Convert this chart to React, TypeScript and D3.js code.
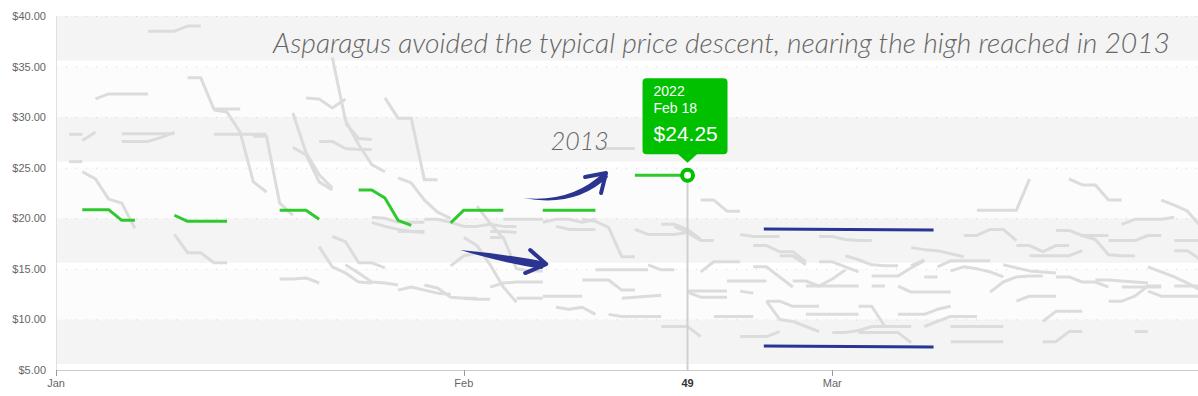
import React, { useRef, useLayoutEffect } from "react";
import * as d3 from "d3";

// x = day index counted from Jan 1 (0), y = price in $
// every entry is one week: [first day, weekday prices...]
const grayWeeks: [number, number[]][] = [
  [7, [38.5, 38.5, 38.5, 39.0, 39.0]],
  [3, [31.8, 32.3, 32.3, 32.3, 32.3]],
  [1, [28.3, 28.3]],
  [2, [27.7, 28.5]],
  [5, [28.35, 28.35, 28.35, 28.35, 28.35]],
  [5, [27.6, 27.6, 27.6, 28.0, 28.5]],
  [1, [25.6, 25.6]],
  [2, [24.6, 23.9, 21.9, 21.5, 19.0]],
  [10, [33.9, 33.9, 30.8, 30.8, 30.8]],
  [12, [30.7, 30.5, 28.5, 23.6, 22.6]],
  [12, [28.3, 28.3, 28.3, 28.3, 28.3]],
  [15, [28.1, 28.1, 21.5, 20.3]],
  [9, [18.4, 16.6, 16.6, 15.6, 15.6]],
  [17, [14.0, 14.0, 14.1, 13.6]],
  [20, [17.2, 15.2, 14.6, 13.7, 13.6]],
  [21, [18.2, 17.7, 15.6, 15.6, 15.1]],
  [22, [15.4, 14.6, 13.7, 13.6, 13.4]],
  [18, [30.4, 26.5, 24.3, 23.0]],
  [18, [27.0, 26.3, 23.6, 22.8]],
  [19, [31.9, 31.8, 30.9, 31.8]],
  [20, [27.6, 27.6, 26.9, 26.8, 26.8]],
  [21, [35.9, 29.7, 27.3, 25.3, 24.6]],
  [26, [24.0, 23.5, 21.8, 20.6, 20.0]],
  [22, [29.4, 27.9, 27.8]],
  [25, [31.9, 29.9, 29.9, 23.8, 23.8]],
  [24, [20.1, 20.0, 19.6, 19.6, 19.6]],
  [24, [19.6, 19.2, 18.9, 18.7, 18.6]],
  [26, [12.9, 13.2, 12.9, 12.6, 12.5]],
  [31, [12.1, 12.0, 12.0]],
  [28, [13.4, 13.1, 12.2, 12.1, 12.1]],
  [30, [15.3, 16.3, 16.6, 16.2]],
  [31, [18.1, 17.3, 15.4, 13.2, 11.7]],
  [33, [18.1, 18.1, 15.0, 14.8, 14.8]],
  [33, [13.2, 13.6, 13.7, 13.7, 13.7]],
  [35, [12.1, 12.1, 12.1]],
  [37, [12.3, 12.3, 12.3, 12.3]],
  [38, [11.2, 11.0, 11.2, 10.5]],
  [42, [10.5, 10.3, 10.3, 10.3, 10.3]],
  [40, [13.9, 13.9, 13.9, 12.9, 12.9]],
  [43, [12.1, 12.2, 12.3, 12.4]],
  [41, [14.9, 14.9, 14.9, 14.9, 14.9]],
  [40, [19.9, 19.7, 19.1, 16.2, 16.2]],
  [45, [15.4, 14.9, 14.9]],
  [44, [18.9, 18.4, 18.4, 18.4, 18.6]],
  [46, [19.4, 19.4, 18.9, 17.9]],
  [46, [9.3, 9.3, 9.3, 8.3]],
  [26, [18.7, 18.7, 18.7]],
  [32, [21.2, 19.5, 18.0]],
  [33, [18.7, 18.7, 18.6]],
  [31, [19.2, 19.2, 19.4, 19.2, 19.2]],
  [34, [19.9, 19.9, 19.9, 19.9]],
  [37, [19.6, 19.9, 19.9, 19.6, 19.9]],
  [38, [19.2, 18.9, 18.9, 18.9]],
  [28, [19.9, 19.9, 19.6, 19.2, 19.2]],
  [41, [26.9, 26.9, 26.9, 26.9]],
  [49, [21.8, 21.8, 20.7, 20.7]],
  [47, [19.2, 18.6, 17.8, 17.8]],
  [52, [18.4, 18.2, 18.2, 18.2]],
  [53, [17.3, 17.3, 16.7, 16.7, 15.7]],
  [55, [16.3, 16.3, 15.4]],
  [58, [18.2, 18.2, 17.9, 17.8, 17.8]],
  [60, [16.3, 15.9, 15.4, 15.3, 15.3]],
  [65, [15.3, 15.9]],
  [62, [14.3, 14.3, 14.3, 15.1, 15.8]],
  [65, [17.1, 16.9, 16.8, 16.5, 16.2]],
  [49, [14.7, 15.7, 15.7, 15.7]],
  [53, [15.2, 15.2, 14.2, 13.2]],
  [51, [13.8, 13.8, 13.8, 13.8]],
  [56, [13.8, 13.8, 13.3, 14.0, 14.9]],
  [57, [13.3, 13.3, 13.3, 13.3, 13.3]],
  [62, [13.3, 13.3]],
  [58, [15.7, 15.7, 15.2, 14.7]],
  [64, [13.3, 12.7, 12.7, 12.7, 12.7]],
  [66, [14.2, 14.2]],
  [48, [12.7, 12.2, 12.2, 12.2]],
  [48, [12.8, 12.8, 12.8, 12.8]],
  [52, [12.8, 12.6]],
  [54, [11.8, 11.8, 11.3, 11.3, 11.3]],
  [54, [11.8, 10.0, 9.8, 9.3, 8.8]],
  [50, [10.3, 10.3, 10.3, 10.3]],
  [57, [10.5, 10.5, 10.5, 10.5, 10.5]],
  [61, [11.3, 11.3, 9.3, 9.3, 9.3]],
  [59, [8.7, 8.7, 8.9, 9.3, 9.3]],
  [61, [8.7, 8.7, 8.7, 8.7, 7.7]],
  [52, [8.3, 8.3, 8.3, 8.8]],
  [64, [10.5, 10.5, 10.5, 11.0, 11.3]],
  [66, [9.3, 9.8, 10.3, 10.3, 10.3]],
  [70, [20.8, 20.8, 20.8, 20.8, 23.9]],
  [77, [23.9, 23.3, 23.3, 21.8, 21.8]],
  [84, [21.8, 21.3, 20.7, 19.2]],
  [81, [19.4, 19.9, 19.9, 19.9, 20.1]],
  [69, [18.3, 18.3, 18.9, 18.9, 17.8]],
  [73, [17.3, 17.3, 16.7, 17.3, 17.3]],
  [76, [18.8, 18.8, 18.3, 18.3, 18.3]],
  [78, [18.3, 17.9, 16.4, 16.3, 16.3]],
  [80, [17.8, 17.8, 17.8, 18.3, 18.3]],
  [74, [16.3, 16.3, 16.3, 16.3, 16.8]],
  [85, [17.8, 17.8, 17.8]],
  [85, [16.8, 16.8, 15.9]],
  [67, [15.2, 15.8, 15.8, 15.8, 15.8]],
  [68, [14.8, 15.2, 15.0, 14.7, 14.2]],
  [72, [15.4, 15.1, 14.8, 14.7, 14.6]],
  [71, [12.7, 13.7, 14.2, 14.3, 14.3]],
  [76, [14.2, 14.2, 13.7, 13.7, 13.2]],
  [81, [13.2, 13.2, 13.2, 13.2]],
  [79, [13.9, 13.9, 13.8, 13.7, 13.6]],
  [83, [15.2, 14.7, 14.2, 13.6, 12.9]],
  [80, [11.8, 11.8, 12.3, 13.3, 13.3]],
  [85, [13.3, 13.3, 13.3]],
  [83, [12.8, 12.3, 12.3, 12.3, 12.3]],
  [73, [11.8, 12.3, 12.3, 12.3]],
  [75, [9.8, 10.8, 10.8, 10.8]],
  [68, [9.3, 9.3, 9.3, 9.3, 9.3]],
  [68, [7.8, 7.8, 7.8, 7.8, 7.8]],
  [75, [7.8, 7.8, 8.8, 8.8]],
  [82, [8.8, 8.8]],
];

// 2022
const greenWeeks: [number, number[]][] = [
  [2, [20.85, 20.85, 20.85, 19.8, 19.8]],
  [9, [20.3, 19.7, 19.7, 19.7, 19.7]],
  [17, [20.8, 20.8, 20.8, 19.9]],
  [23, [22.8, 22.8, 22.0, 19.8, 19.3]],
  [30, [19.55, 20.8, 20.8, 20.8, 20.8]],
  [37, [20.8, 20.8, 20.8, 20.8, 20.8]],
  [44, [24.25, 24.25, 24.25, 24.25, 24.25]],
];

const blueHigh: [number, number][] = [
  [53.8, 18.95],
  [66.7, 18.85],
];
const blueLow: [number, number][] = [
  [53.8, 7.37],
  [66.7, 7.27],
];

const priceTicks = [5, 10, 15, 20, 25, 30, 35, 40];
const monthDays = [0, 31, 59];
const monthLabels = ["Jan", "Feb", "Mar"];
const darkBands: [number, number][] = [
  [5.6, 10],
  [15.6, 20],
  [25.6, 30],
  [35.6, 40],
];
const lightBands: [number, number][] = [
  [10, 15],
  [20, 25],
  [30, 35],
];

const hoverDay = 48;
const hoverPrice = 24.25;
const hoverYear = "2022";
const hoverDate = "Feb 18";
const hoverDayLabel = "49";

const W = 1198;
const H = 396;
const FONT = "'Liberation Sans', Arial, sans-serif";
const HAND = "Lato, 'Open Sans', sans-serif";

const App: React.FC = () => {
  const svgRef = useRef<SVGSVGElement>(null);

  useLayoutEffect(() => {
    if (!svgRef.current) return;
    const svg = d3.select(svgRef.current);
    svg.selectAll("*").remove();

    const x = d3.scaleLinear().domain([0, 86.8]).range([56, W]);
    const y = d3.scaleLinear().domain([5, 40]).range([370, 16]);
    const [x0, x1] = x.range();

    svg
      .append("defs")
      .append("clipPath")
      .attr("id", "plot")
      .append("rect")
      .attr("x", x0)
      .attr("y", y(40))
      .attr("width", x1 - x0)
      .attr("height", y(5) - y(40));

    // bands
    svg
      .selectAll(".lband")
      .data(lightBands)
      .join("rect")
      .attr("x", x0)
      .attr("width", x1 - x0)
      .attr("y", (d) => y(d[1]))
      .attr("height", (d) => y(d[0]) - y(d[1]))
      .attr("fill", "#fcfcfc");
    svg
      .selectAll(".dband")
      .data(darkBands)
      .join("rect")
      .attr("x", x0)
      .attr("width", x1 - x0)
      .attr("y", (d) => y(d[1]))
      .attr("height", (d) => y(d[0]) - y(d[1]))
      .attr("fill", "#f4f4f4");

    // dotted grid
    svg
      .selectAll(".grid")
      .data(priceTicks)
      .join("line")
      .attr("x1", x0)
      .attr("x2", x1)
      .attr("y1", (d) => y(d) + 0.5)
      .attr("y2", (d) => y(d) + 0.5)
      .attr("stroke", "#d4d4d4")
      .attr("stroke-dasharray", "1,9");

    // y labels
    svg
      .selectAll(".ylab")
      .data(priceTicks)
      .join("text")
      .attr("x", x0 - 10)
      .attr("y", (d) => y(d) + 4)
      .attr("text-anchor", "end")
      .attr("font-family", FONT)
      .attr("font-size", 11)
      .attr("fill", "#666")
      .text((d) => d3.format("$.2f")(d));

    // axes lines
    svg
      .append("line")
      .attr("x1", x0 + 0.5)
      .attr("x2", x0 + 0.5)
      .attr("y1", y(40))
      .attr("y2", y(5))
      .attr("stroke", "#e0e0e0");
    svg
      .append("line")
      .attr("x1", x0)
      .attr("x2", x1)
      .attr("y1", y(5) + 0.5)
      .attr("y2", y(5) + 0.5)
      .attr("stroke", "#ccc");

    svg
      .selectAll(".tick")
      .data(monthDays)
      .join("line")
      .attr("x1", (d) => Math.round(x(d)) + 0.5)
      .attr("x2", (d) => Math.round(x(d)) + 0.5)
      .attr("y1", y(5))
      .attr("y2", y(5) + 6)
      .attr("stroke", "#999");
    svg
      .selectAll(".xlab")
      .data(monthDays)
      .join("text")
      .attr("x", (d) => x(d))
      .attr("y", y(5) + 17)
      .attr("text-anchor", "middle")
      .attr("font-family", FONT)
      .attr("font-size", 11)
      .attr("fill", "#666")
      .text((_, i) => monthLabels[i]);

    const line = d3
      .line<[number, number]>()
      .x((d) => x(d[0]))
      .y((d) => y(d[1]));
    const toPts = (w: [number, number[]]) =>
      w[1].map((v, i) => [w[0] + i, v] as [number, number]);

    const plot = svg.append("g").attr("clip-path", "url(#plot)");

    plot
      .selectAll(".gray")
      .data(grayWeeks)
      .join("path")
      .attr("d", (d) => line(toPts(d)))
      .attr("fill", "none")
      .attr("stroke", "#dcdcdc")
      .attr("stroke-width", 3)
      .attr("stroke-linejoin", "round");

    // crosshair
    plot
      .append("line")
      .attr("x1", x(hoverDay))
      .attr("x2", x(hoverDay))
      .attr("y1", y(hoverPrice))
      .attr("y2", y(5))
      .attr("stroke", "#d0d0d0")
      .attr("stroke-width", 2);

    plot
      .selectAll(".blue")
      .data([blueHigh, blueLow])
      .join("path")
      .attr("d", (d) => line(d))
      .attr("fill", "none")
      .attr("stroke", "#283593")
      .attr("stroke-width", 3);

    plot
      .selectAll(".green")
      .data(greenWeeks)
      .join("path")
      .attr("d", (d) => line(toPts(d)))
      .attr("fill", "none")
      .attr("stroke", "#2ec92e")
      .attr("stroke-width", 3)
      .attr("stroke-linejoin", "round");

    // hover point + tooltip
    const hx = x(hoverDay);
    const hy = y(hoverPrice);
    svg
      .append("circle")
      .attr("cx", hx)
      .attr("cy", hy)
      .attr("r", 5.5)
      .attr("fill", "#fff")
      .attr("stroke", "#00c000")
      .attr("stroke-width", 4);

    const tip = svg.append("g").attr("transform", `translate(${hx},${hy})`);
    tip
      .append("rect")
      .attr("x", -45)
      .attr("y", -97)
      .attr("width", 85)
      .attr("height", 76)
      .attr("rx", 4)
      .attr("fill", "#00c000");
    tip
      .append("path")
      .attr("d", "M-10,-21.5L0,-12.5L10,-21.5Z")
      .attr("fill", "#00c000");
    tip
      .append("text")
      .attr("x", -34)
      .attr("y", -79)
      .attr("font-family", FONT)
      .attr("font-size", 14)
      .attr("fill", "#fff")
      .text(hoverYear);
    tip
      .append("text")
      .attr("x", -34)
      .attr("y", -62)
      .attr("font-family", FONT)
      .attr("font-size", 14)
      .attr("fill", "#fff")
      .text(hoverDate);
    tip
      .append("text")
      .attr("x", -34)
      .attr("y", -34)
      .attr("font-family", FONT)
      .attr("font-size", 21)
      .attr("fill", "#fff")
      .text(d3.format("$.2f")(hoverPrice));

    svg
      .append("text")
      .attr("x", hx)
      .attr("y", y(5) + 17)
      .attr("text-anchor", "middle")
      .attr("font-family", FONT)
      .attr("font-size", 11)
      .attr("font-weight", "bold")
      .attr("fill", "#333")
      .text(hoverDayLabel);

    // hand drawn arrows
    const navy = "#2b3591";
    const up = svg
      .append("g")
      .attr("transform", `translate(${x(35.5)},${y(22.0)})`);
    up.append("path")
      .attr("d", "M0,0 Q49,5 81,-26 L85,-21 Q52,10 0,0 Z")
      .attr("fill", navy);
    up.append("path")
      .attr("d", "M62,-21 L83,-25 L78,-5")
      .attr("fill", "none")
      .attr("stroke", navy)
      .attr("stroke-width", 4)
      .attr("stroke-linecap", "round")
      .attr("stroke-linejoin", "round");

    const down = svg
      .append("g")
      .attr("transform", `translate(${x(30.72)},${y(16.86)})`);
    down
      .append("path")
      .attr("d", "M0,0 Q45,4 86,12 L82,19 Q40,12 0,0 Z")
      .attr("fill", navy);
    down
      .append("path")
      .attr("d", "M70,0 L86,14 L65,23")
      .attr("fill", "none")
      .attr("stroke", navy)
      .attr("stroke-width", 4)
      .attr("stroke-linecap", "round")
      .attr("stroke-linejoin", "round");

    svg
      .append("text")
      .attr("x", x(37.6))
      .attr("y", y(26.8))
      .attr("font-family", HAND)
      .attr("font-style", "italic")
      .attr("font-weight", 300)
      .attr("font-size", 25)
      .attr("fill", "#666")
      .attr("textLength", 58)
      .attr("lengthAdjust", "spacingAndGlyphs")
      .text("2013");

    svg
      .append("text")
      .attr("x", 273)
      .attr("y", 53)
      .attr("font-family", HAND)
      .attr("font-style", "italic")
      .attr("font-weight", 300)
      .attr("font-size", 27)
      .attr("fill", "#666")
      .attr("textLength", 897)
      .attr("lengthAdjust", "spacingAndGlyphs")
      .text(
        "Asparagus avoided the typical price descent, nearing the high reached in 2013"
      );
  }, []);

  return (
    <>
      <style>{`body{margin:0;background:#fff}`}</style>
      <svg
        ref={svgRef}
        width={W}
        height={H}
        style={{ position: "absolute", left: 0, top: 0 }}
      />
    </>
  );
};

export default App;
